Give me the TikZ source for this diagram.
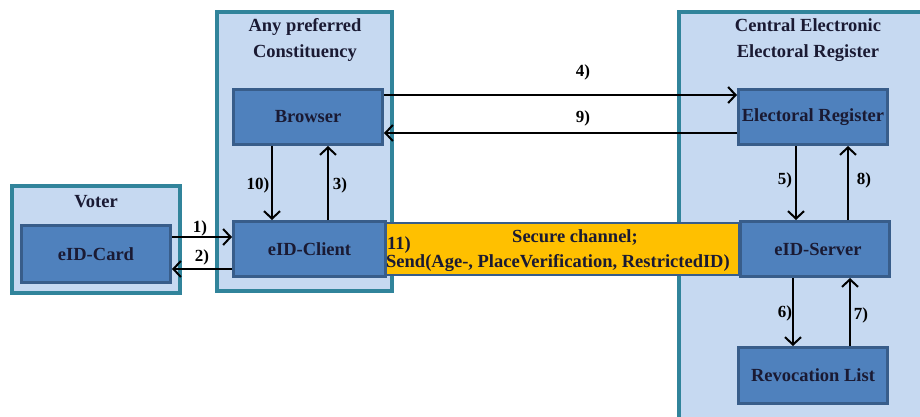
\documentclass[tikz,border=0pt]{standalone}
\usepackage{fontspec}
\setmainfont{Liberation Serif}
\usetikzlibrary{arrows.meta}
\definecolor{outerfill}{HTML}{C6D9F1}
\definecolor{outerline}{HTML}{31849B}
\definecolor{innerfill}{HTML}{4F81BD}
\definecolor{innerline}{HTML}{385D8A}
\definecolor{chan}{HTML}{FFC000}
\definecolor{txt}{HTML}{1A1A33}
\begin{document}
\begin{tikzpicture}[x=1pt,y=-1pt,
 outerbox/.style={draw=outerline, fill=outerfill, line width=4pt},
 innerbox/.style={draw=innerline, fill=innerfill, line width=3pt, font=\bfseries\fontsize{18.5}{22}\selectfont, text=txt, inner sep=0},
 lbl/.style={font=\bfseries\fontsize{18.5}{26}\selectfont, text=txt, align=center, inner sep=0},
 num/.style={font=\bfseries\fontsize{17}{20}\selectfont, text=black, inner sep=0},
 arr/.style={-{Straight Barb[length=7.5pt,width=16pt]}, line width=2pt}]
\useasboundingbox (0,0) rectangle (920,416);
\clip (0,0) rectangle (920,416);
\fill[white] (0,0) rectangle (920,416);
% outer boxes
\node[outerbox, minimum width=168, minimum height=107] (voter) at (96,239.5) {};
\node[outerbox, minimum width=175, minimum height=279] (const) at (304.5,151.5) {};
\node[outerbox, minimum width=260, minimum height=430] (central) at (809,227) {};
\node[lbl] (voterl) at (96,202) {Voter};
\node[lbl] (constl) at (305,40) {Any preferred\\Constituency};
\node[lbl] (centrall) at (808,40) {Central Electronic\\Electoral Register};
% inner boxes
\node[innerbox, minimum width=149, minimum height=56.5] (card) at (96,254) {eID-Card};
\node[innerbox, minimum width=149, minimum height=55] (browser) at (308,117) {Browser};
\node[innerbox, minimum width=152, minimum height=55] (client) at (309.5,249) {eID-Client};
\node[innerbox, minimum width=149, minimum height=55] (elec) at (813,117) {Electoral Register};
\node[innerbox, minimum width=149, minimum height=55] (server) at (815,249) {\hspace*{6pt}eID-Server};
\node[innerbox, minimum width=149, minimum height=56] (revoc) at (813,375.5) {Revocation List};
% secure channel
\node[draw=innerline, fill=chan, line width=2pt, minimum width=353, minimum height=52, inner sep=0] (chan) at (562.5,249) {};
\node[lbl, anchor=west] (chan11) at (387,245) {11)};
\node[lbl] (chansec) at (575,238) {Secure channel;};
\node[lbl, anchor=west] (chansend) at (386,263) {Send(Age-, PlaceVerification, RestrictedID)};
% arrows
\draw[arr] ([yshift=17pt]card.east) -- ([yshift=12pt]client.west);
\draw[arr] ([yshift=-20pt]client.west) -- ([yshift=-15pt]card.east);
\draw[arr] ([yshift=22pt]browser.east) -- ([yshift=22pt]elec.west);
\draw[arr] ([yshift=-16pt]elec.west) -- ([yshift=-16pt]browser.east);
\draw[arr] ([xshift=-36pt]browser.south) -- ([xshift=-37.5pt]client.north);
\draw[arr] ([xshift=18.5pt]client.north) -- ([xshift=20pt]browser.south);
\draw[arr] ([xshift=-17pt]elec.south) -- ([xshift=-19pt]server.north);
\draw[arr] ([xshift=33pt]server.north) -- ([xshift=35pt]elec.south);
\draw[arr] ([xshift=-22pt]server.south) -- ([xshift=-20pt]revoc.north);
\draw[arr] ([xshift=37pt]revoc.north) -- ([xshift=35pt]server.south);
% labels
\node[num] (n1) at (200,228) {1)};
\node[num] (n2) at (202,257) {2)};
\node[num] (n4) at (583,72) {4)};
\node[num] (n9) at (583,118) {9)};
\node[num] (n10) at (258,185) {10)};
\node[num] (n3) at (340,185) {3)};
\node[num] (n5) at (785,180) {5)};
\node[num] (n8) at (864,180) {8)};
\node[num] (n6) at (785,313) {6)};
\node[num] (n7) at (861,315) {7)};
\end{tikzpicture}
\end{document}
